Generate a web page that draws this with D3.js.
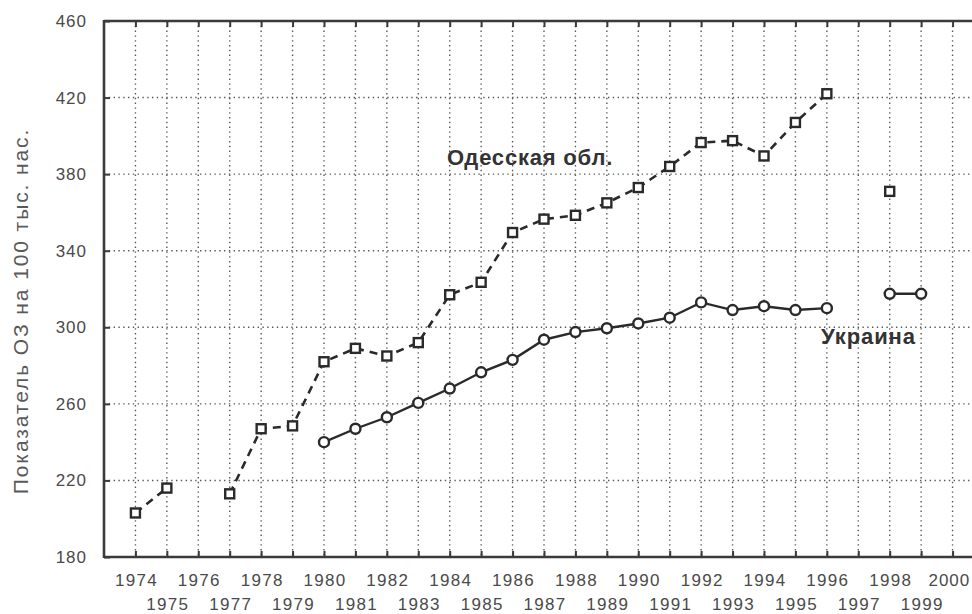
<!DOCTYPE html>
<html>
<head>
<meta charset="utf-8">
<script src="https://cdn.jsdelivr.net/npm/d3@7"></script>
<style>
  body { margin: 0; background: #fff; }
  svg { display: block; font-family: "Liberation Sans", Arial, sans-serif; }
</style>
</head>
<body>
<svg id="chart" width="972" height="614"></svg>
<script>
// years on the x axis
var years = d3.range(1974, 2001);
var yTicks = [180, 220, 260, 300, 340, 380, 420, 460];

// Одесская обл. (null = no data)
var odessaYears = [1974, 1975, 1976, 1977, 1978, 1979, 1980, 1981, 1982, 1983, 1984, 1985, 1986, 1987, 1988, 1989, 1990, 1991, 1992, 1993, 1994, 1995, 1996, 1997, 1998];
var odessaVals  = [203, 216, null, 213, 247, 248.5, 282, 289, 285, 292, 317, 323.5, 349.5, 356.5, 358.5, 365, 373, 384, 396.5, 397.5, 389.5, 407, 422, null, 371];

// Украина
var ukrYears = [1980, 1981, 1982, 1983, 1984, 1985, 1986, 1987, 1988, 1989, 1990, 1991, 1992, 1993, 1994, 1995, 1996, 1997, 1998, 1999];
var ukrVals  = [240, 247, 253, 260.5, 268, 276.5, 283, 293.5, 297.5, 299.5, 302, 305, 313, 309, 311, 309, 310, null, 317.5, 317.5];

var svg = d3.select("#chart");

var x = d3.scaleLinear().domain([1973, 2001]).range([104, 984]);
var y = d3.scaleLinear().domain([180, 460]).range([557, 21]);

var gridCol = "#5a5a5a", axisCol = "#3a3a3a", textCol = "#4a4a4a";

// dotted grid
svg.append("g").selectAll("line").data(years).enter().append("line")
  .attr("x1", function(d){ return x(d); }).attr("x2", function(d){ return x(d); })
  .attr("y1", y(460)).attr("y2", y(180))
  .style("stroke", gridCol).style("stroke-width", 1.4).style("stroke-dasharray", "1.4,3.4");

svg.append("g").selectAll("line").data(yTicks.slice(1, -1)).enter().append("line")
  .attr("x1", x(1973)).attr("x2", 972)
  .attr("y1", function(d){ return y(d); }).attr("y2", function(d){ return y(d); })
  .style("stroke", gridCol).style("stroke-width", 1.4).style("stroke-dasharray", "1.4,3.4");

// frame: left, bottom, top
var frame = svg.append("g").style("stroke", axisCol).style("stroke-width", 2.6).style("fill", "none");
frame.append("line").attr("x1", x(1973)).attr("x2", x(1973)).attr("y1", y(460) - 1).attr("y2", y(180) + 1);
frame.append("line").attr("x1", x(1973)).attr("x2", 972).attr("y1", y(180)).attr("y2", y(180));
frame.append("line").attr("x1", x(1973)).attr("x2", 972).attr("y1", y(460)).attr("y2", y(460));

// axes with inward ticks
var xBottom = svg.append("g").attr("transform", "translate(0," + y(180) + ")")
  .call(d3.axisBottom(x).tickValues(years).tickSizeInner(-6).tickSizeOuter(0).tickFormat(""));
var xTop = svg.append("g").attr("transform", "translate(0," + y(460) + ")")
  .call(d3.axisTop(x).tickValues(years).tickSizeInner(-6).tickSizeOuter(0).tickFormat(""));
var yLeft = svg.append("g").attr("transform", "translate(" + x(1973) + ",0)")
  .call(d3.axisLeft(y).tickValues(yTicks).tickSizeInner(-6).tickSizeOuter(0).tickPadding(17));

[xBottom, xTop, yLeft].forEach(function(g){
  g.select(".domain").remove();
  g.selectAll(".tick line").style("stroke", axisCol).style("stroke-width", 2);
});
yLeft.selectAll(".tick text").style("font-size", "17px").style("fill", textCol)
  .style("letter-spacing", "1px")
  .style("font-family", "'Liberation Sans', Arial, sans-serif");

// x labels in two rows
svg.append("g").selectAll("text").data(years).enter().append("text")
  .attr("x", function(d){ return d === 2000 ? 970 : x(d) + 1; })
  .attr("y", function(d){ return d % 2 === 0 ? 586 : 610; })
  .attr("text-anchor", function(d){ return d === 2000 ? "end" : "middle"; })
  .style("font-size", "17px").style("fill", textCol)
  .style("letter-spacing", function(d){ return d === 2000 ? "0.9px" : "1.3px"; })
  .text(function(d){ return d; });

// y axis title
svg.append("text")
  .attr("transform", "translate(28,311) rotate(-90)")
  .attr("text-anchor", "middle")
  .style("font-size", "21px").style("fill", "#5a5a5a").style("letter-spacing", "1.9px")
  .text("Показатель ОЗ на 100 тыс. нас.");

// series
var odessa = odessaYears.map(function(d, i){ return {year: d, val: odessaVals[i]}; });
var ukr = ukrYears.map(function(d, i){ return {year: d, val: ukrVals[i]}; });

var line = d3.line().defined(function(d){ return d.val !== null; })
  .x(function(d){ return x(d.year); }).y(function(d){ return y(d.val); });

svg.append("path").datum(odessa).attr("d", line)
  .style("fill", "none").style("stroke", "#2a2a2a").style("stroke-width", 2.6)
  .style("stroke-dasharray", "8,6");

svg.append("path").datum(ukr).attr("d", line)
  .style("fill", "none").style("stroke", "#2a2a2a").style("stroke-width", 2.4);

svg.append("g").selectAll("rect").data(odessa.filter(function(d){ return d.val !== null; }))
  .enter().append("rect")
  .attr("x", function(d){ return x(d.year) - 4.5; })
  .attr("y", function(d){ return y(d.val) - 4.5; })
  .attr("width", 9).attr("height", 9)
  .style("fill", "#fff").style("stroke", "#2a2a2a").style("stroke-width", 2.4);

svg.append("g").selectAll("circle").data(ukr.filter(function(d){ return d.val !== null; }))
  .enter().append("circle")
  .attr("cx", function(d){ return x(d.year); })
  .attr("cy", function(d){ return y(d.val); })
  .attr("r", 5)
  .style("fill", "#fff").style("stroke", "#2a2a2a").style("stroke-width", 2.4);

// series labels
svg.append("text").attr("x", 447).attr("y", 165)
  .style("font-size", "22px").style("font-weight", "bold").style("fill", "#333")
  .style("letter-spacing", "0.8px")
  .text("Одесская обл.");
svg.append("text").attr("x", 821).attr("y", 344)
  .style("font-size", "22px").style("font-weight", "bold").style("fill", "#333")
  .style("letter-spacing", "0.9px")
  .text("Украина");
</script>
</body>
</html>
